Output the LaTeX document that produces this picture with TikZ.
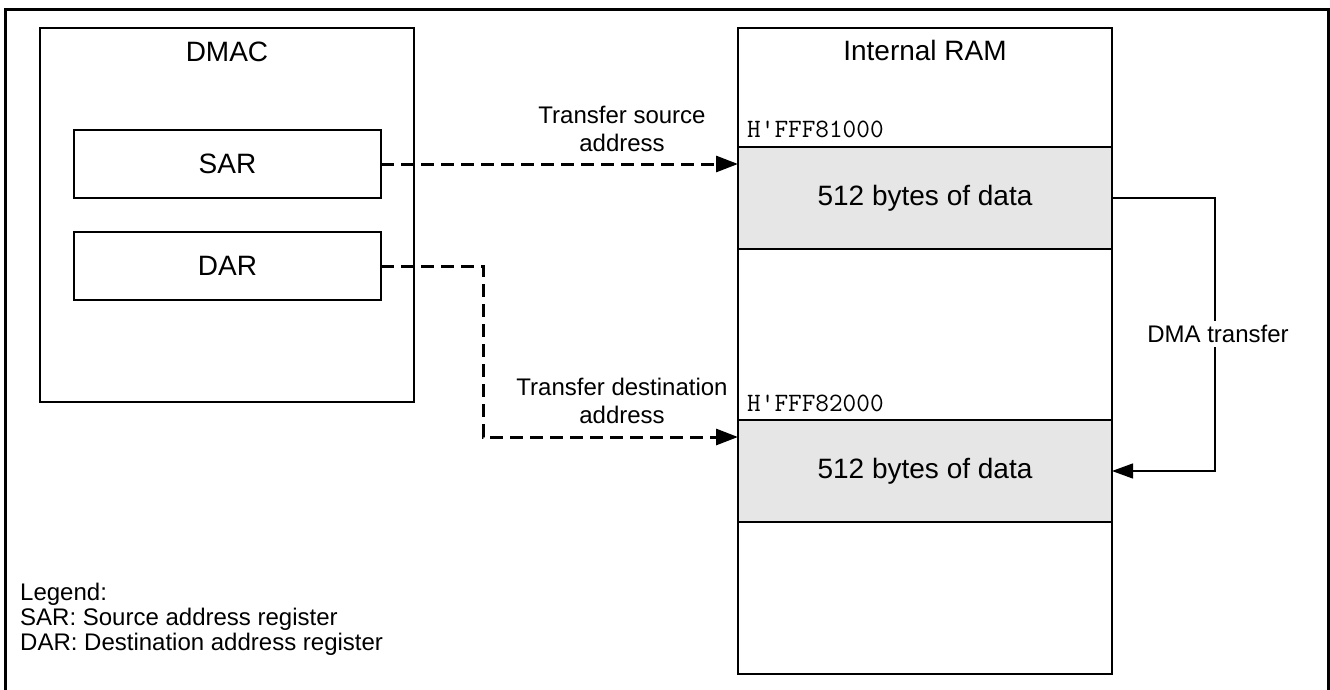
\documentclass[tikz,border=0pt]{standalone}
\usepackage{fontspec}
\setmainfont{Liberation Sans}
\usetikzlibrary{arrows.meta}
\begin{document}
\begin{tikzpicture}[x=1pt,y=-1pt,
  box/.style={draw, line width=1.2pt, inner sep=0pt, outer sep=0pt, fill=white},
  regbox/.style={box, minimum width=307pt, minimum height=68pt, font=\fontsize{28}{33}\selectfont},
  datablk/.style={box, fill=blockgray, minimum width=374pt, minimum height=102pt, font=\fontsize{28}{33}\selectfont},
  bigtitle/.style={inner sep=0pt, font=\fontsize{28}{33}\selectfont},
  midlabel/.style={inner sep=0pt, align=center, font=\fontsize{24}{28}\selectfont},
  addr/.style={inner sep=0pt, anchor=base west, font=\ttfamily\fontsize{26.5}{30}\selectfont},
  legendtxt/.style={inner sep=0pt, anchor=base west, font=\fontsize{24}{28}\selectfont},
  dashedlink/.style={line width=3pt, dash pattern=on 13pt off 7pt, -{Triangle[length=22pt,width=16pt]}},
  solidlink/.style={line width=1.3pt, -{Triangle[length=21pt,width=15pt]}}
]
\definecolor{blockgray}{HTML}{E6E6E6}
\useasboundingbox (0,0) rectangle (1330,690);
\fill[white] (0,0) rectangle (1330,690);
% outer frame
\draw[line width=3pt] (5,700) -- (5,9.5) -- (1328,9.5) -- (1328,700);

% DMAC
\node[box, minimum width=374pt, minimum height=374pt] (dmac) at (227,215) {};
\node[bigtitle] (dmaclbl) at (227,52) {DMAC};
\node[regbox] (sar) at (227.5,164) {SAR};
\node[regbox] (dar) at (227.5,266) {DAR};

% Internal RAM
\node[box, minimum width=374pt, minimum height=646pt] (ram) at (925,351) {};
\node[bigtitle] (ramlbl) at (925,50) {Internal RAM};
\node[datablk] (blk1) at (925,198) {512 bytes of data};
\node[datablk] (blk2) at (925,471) {512 bytes of data};
\node[addr] (addr1) at (747,138) {H'FFF81000};
\node[addr] (addr2) at (747,411) {H'FFF82000};

% source address arrow
\draw[dashedlink] (sar.east) -- (sar.east -| blk1.west);
\node[midlabel] (srclbl) at (622,129) {Transfer source\\address};

% destination address arrow
\coordinate (dtgt) at (738,437);
\coordinate (dbend) at (483,266);
\draw[dashedlink] (dar.east) -- (dbend) |- (dtgt);
\node[midlabel] (dstlbl) at (622,401) {Transfer destination\\address};

% DMA transfer
\coordinate (dmaR) at (1215,198);
\draw[solidlink] (blk1.east) -- (dmaR) |- (blk2.east);
\node[midlabel, fill=white, inner sep=4pt] (dmalbl) at (1218,334) {DMA transfer};

% legend
\node[legendtxt] (leg0) at (20,600) {Legend:};
\node[legendtxt] (leg1) at (20,625) {SAR: Source address register};
\node[legendtxt] (leg2) at (20,650) {DAR: Destination address register};
\end{tikzpicture}
\end{document}
